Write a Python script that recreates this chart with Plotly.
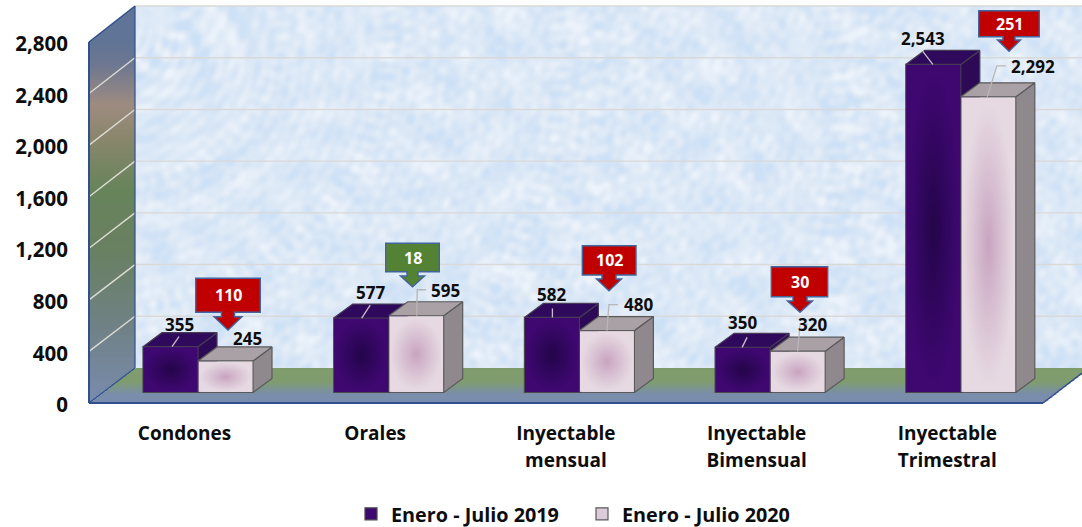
import base64, struct, zlib
import numpy as np
import plotly.graph_objects as go

# ---------- data ----------
categories = ["Condones", "Orales", "Inyectable mensual", "Inyectable Bimensual", "Inyectable Trimestral"]
series_names = ["Enero - Julio 2019", "Enero - Julio 2020"]
values_2019 = [355, 577, 582, 350, 2543]
values_2020 = [245, 595, 480, 320, 2292]
differences = [110, 18, 102, 30, 251]
difference_colors = ["#c00000", "#548235", "#c00000", "#c00000", "#c00000"]
y_ticks = [0, 400, 800, 1200, 1600, 2000, 2400, 2800]

# ---------- layout geometry (pixels) ----------
W, H = 1082, 527
L, B = 89, 403
PB = 405  # bottom of the plot area; the value-axis labels hang from it
CAT0, STEP = 184.5, 190.7
BAR0 = 198.0
PXU = 0.129
BASE = 392.5
BARW = 55 / STEP
DX, DY = 19 / STEP, 14 / PXU
WALL_X, WALL_BOTTOM, WALL_TOP = 135, 368, 6
WALL_PXU = (WALL_BOTTOM - WALL_TOP) / 2800


def px(x):
    return (x - L) / (W - L)


def py(y):
    return (PB - y) / PB


def png(rgba):
    rgba = np.clip(rgba, 0, 255).astype(np.uint8)
    h, w, c = rgba.shape
    raw = b"".join(b"\x00" + rgba[i].tobytes() for i in range(h))

    def chunk(t, d):
        return struct.pack(">I", len(d)) + t + d + struct.pack(">I", zlib.crc32(t + d) & 0xffffffff)

    hdr = struct.pack(">IIBBBBB", w, h, 8, 6, 0, 0, 0)
    data = b"\x89PNG\r\n\x1a\n" + chunk(b"IHDR", hdr) + chunk(b"IDAT", zlib.compress(raw, 9)) + chunk(b"IEND", b"")
    return "data:image/png;base64," + base64.b64encode(data).decode()


def radial(edge, centre, n=48):
    u, v = np.meshgrid(np.linspace(-1, 1, n), np.linspace(-1, 1, n))
    t = np.clip(np.sqrt(u ** 2 + v ** 2) / 0.95, 0, 1)[..., None]
    t = t ** 0.9
    col = np.array(centre) * (1 - t) + np.array(edge) * t
    return png(np.dstack([col, np.full((n, n), 255)]))


def texture(w, h):
    x, y = np.meshgrid(np.arange(w), np.arange(h))
    fine = np.zeros((h, w))
    coarse = np.zeros((h, w))
    for k in range(1, 120):
        a = k * 2.399963
        f = 0.5 + 0.7 * ((k * 0.618034) % 1)
        fine += np.sin(np.cos(a) * f * x + np.sin(a) * f * y + k * 1.7)
        f2 = 0.15 + 0.20 * ((k * 0.381966) % 1)
        coarse += np.sin(np.cos(a * 1.3) * f2 * x + np.sin(a * 1.3) * f2 * y + k * 0.9)
    n = 0.7 * fine / fine.std() + 0.8 * coarse / coarse.std()
    n = (n[..., None]) / 2.6
    base = np.array([221, 233, 247.0])
    light = np.array([236, 243, 251.0])
    dark = np.array([205, 225, 246.0])
    col = base + np.clip(n, 0, 1) * (light - base) + np.clip(-n, 0, 1) * (dark - base)
    return png(np.dstack([col, np.full((h, w), 255)]))


def gradient(stops, ys):
    yy = [s[0] for s in stops]
    return np.stack([np.interp(ys, yy, [s[1][i] for s in stops]) for i in range(3)], axis=-1)


def left_wall():
    w, h = (WALL_X - L) * 2, (B - WALL_TOP)
    ys = np.arange(h) + WALL_TOP + 0.5
    cols = gradient([(40, (95, 116, 150)), (65, (110, 120, 145)), (105, (158, 140, 128)), (135, (140, 135, 110)),
                      (190, (103, 132, 90)), (250, (106, 128, 98)), (330, (112, 130, 135)), (403, (122, 140, 175))], ys)
    img = np.zeros((h, w, 4))
    img[..., :3] = cols[:, None, :]
    xx = (np.arange(w) + 0.5) / 2
    top = 42 - xx * (42 - WALL_TOP) / (WALL_X - L)
    bot = 403 - xx * (403 - WALL_BOTTOM) / (WALL_X - L)
    img[..., 3] = ((ys[:, None] >= top[None, :]) & (ys[:, None] <= bot[None, :])) * 255
    return png(img)


def floor_img():
    w, h = (W - L) // 2, B - WALL_BOTTOM
    ys = np.arange(h) + WALL_BOTTOM + 0.5
    cols = gradient([(368, (127, 158, 108)), (382, (127, 156, 112)), (394, (122, 142, 170)), (403, (122, 140, 175))], ys)
    img = np.zeros((h, w, 4))
    img[..., :3] = cols[:, None, :]
    xx = L + (np.arange(w) + 0.5) * 2
    left = L + (403 - ys[:, None]) * (WALL_X - L) / (403 - WALL_BOTTOM)
    right = 1043 + (403 - ys[:, None]) * (1082 - 1043) / 30
    img[..., 3] = ((xx[None, :] >= left) & (xx[None, :] <= right)) * 255
    return png(img)


images = [
    dict(source=texture(474, 181), xref="paper", yref="paper", x=px(WALL_X), y=py(WALL_TOP), sizex=px(W) - px(WALL_X),
         sizey=py(WALL_TOP) - py(WALL_BOTTOM), xanchor="left", yanchor="top", sizing="stretch", layer="below"),
    dict(source=left_wall(), xref="paper", yref="paper", x=px(L), y=py(WALL_TOP), sizex=px(WALL_X) - px(L),
         sizey=py(WALL_TOP) - py(B), xanchor="left", yanchor="top", sizing="stretch", layer="below"),
    dict(source=floor_img(), xref="paper", yref="paper", x=px(L), y=py(WALL_BOTTOM), sizex=1,
         sizey=py(WALL_BOTTOM) - py(B), xanchor="left", yanchor="top", sizing="stretch", layer="below"),
]

purple_img = radial((62, 8, 112), (36, 5, 74))
light_img = radial((230, 217, 226), (200, 163, 192))
INSET_X, INSET_Y = 0.6 / STEP, 0.6 / PXU
for i, (a, b) in enumerate(zip(values_2019, values_2020)):
    images.append(dict(source=purple_img, xref="x2", yref="y2", x=i - BARW + INSET_X, y=a - INSET_Y,
                       sizex=BARW - 2 * INSET_X, sizey=a - 2 * INSET_Y, xanchor="left", yanchor="top",
                       sizing="stretch", layer="above"))
    images.append(dict(source=light_img, xref="x2", yref="y2", x=i + INSET_X, y=b - INSET_Y,
                       sizex=BARW - 2 * INSET_X, sizey=b - 2 * INSET_Y, xanchor="left", yanchor="top",
                       sizing="stretch", layer="above"))

shapes = []
GRID = "#d9d9d9"
for t in y_ticks[1:]:
    yb = WALL_BOTTOM - WALL_PXU * t
    shapes.append(dict(type="line", xref="paper", yref="paper", x0=px(WALL_X), x1=px(W), y0=py(yb), y1=py(yb),
                       line=dict(color=GRID, width=1.4), layer="below"))
    if t < 2800:
        yf = B - (B - 42) / 2800 * t
        shapes.append(dict(type="line", xref="paper", yref="paper", x0=px(L), x1=px(WALL_X), y0=py(yf), y1=py(yb),
                           line=dict(color="#dcdcd4", width=1.4), layer="below"))
EDGE = "#2f4f8f"
for (x0, y0, x1, y1, wd) in [(L, 42, L, B, 2), (L, 42, WALL_X, WALL_TOP, 1.5), (WALL_X, WALL_TOP, WALL_X, WALL_BOTTOM, 1.2),
                             (L, B, WALL_X, WALL_BOTTOM, 1.2), (L, B, 1043, B, 2), (1043, B, 1082, 373, 1.5)]:
    shapes.append(dict(type="line", xref="paper", yref="paper", x0=px(x0), x1=px(x1), y0=py(y0), y1=py(y1),
                       line=dict(color=EDGE, width=wd), layer="below"))

# ---------- leader lines (pixel offsets from bar centre/top) ----------
leaders_2019 = [[(1.5, 0), (8.5, -10)], [(0.5, 0), (9, -13)], [(0.5, 0), (0.5, -9)], [(-0.5, 0), (4.5, -10)], [(-0.5, 0), (-10.5, -13)]]
leaders_2020 = [[], [(0.5, 0), (1, -26), (10, -26)], [(0, 0), (2, -26), (11, -26)], [(0, 0), (2.5, -27), (10.5, -27)],
                [(-1, 0), (8.5, -31), (17.5, -31)]]
label_shift_2019 = [(8.5, 22.7), (9, 26), (0, 23), (0, 25), (-10, 26)]
label_shift_2020 = [(22, 22), (29, 25), (32, 25.6), (15, 27), (45, 30)]
callouts = [  # rect x0, x1, y0, y1, head half-width, neck half-width, head y, tip y, tip x
    (195.7, 260.3, 278.3, 312.3, 14, 6.5, 316.7, 330, 228),
    (385.7, 439.3, 243.3, 271.7, 12, 5.5, 276, 286.7, 412.5),
    (582.3, 636, 245.7, 275, 12.5, 7, 279, 290.7, 609),
    (771.3, 827.7, 266.7, 296.7, 12.5, 7, 301, 312.3, 800),
    (978.7, 1039.3, 10.7, 36.7, 11.5, 6, 40, 51.3, 1009),
]

for vals, leaders, xoff, col in [(values_2019, leaders_2019, -BARW / 2, "#cbbccb"), (values_2020, leaders_2020, BARW / 2, "#b9b6b8")]:
    for i, (v, pts) in enumerate(zip(vals, leaders)):
        if not pts:
            continue
        cx = i + xoff
        path = " ".join(("M" if k == 0 else "L") + f"{cx + p[0] / STEP},{v - p[1] / PXU}" for k, p in enumerate(pts))
        shapes.append(dict(type="path", xref="x2", yref="y2", path=path, line=dict(color=col, width=1.3), layer="above"))

annotations = []
FONT = "Open Sans"
for i, (d, c, co) in enumerate(zip(differences, difference_colors, callouts)):
    x0, x1, y0, y1, hw, nw, hy, ty, tx = co
    pts = [(x0, y0), (x1, y0), (x1, y1), (tx + nw, y1), (tx + nw, hy), (tx + hw, hy), (tx, ty), (tx - hw, hy), (tx - nw, hy), (tx - nw, y1), (x0, y1)]
    path = " ".join(("M" if k == 0 else "L") + f"{px(a)},{py(b)}" for k, (a, b) in enumerate(pts)) + " Z"
    shapes.append(dict(type="path", xref="paper", yref="paper", path=path, fillcolor=c,
                       line=dict(color="#41659c", width=1.4), layer="above"))
    annotations.append(dict(xref="paper", yref="paper", x=px((x0 + x1) / 2), y=py((y0 + y1) / 2), text=str(d), showarrow=False,
                            xanchor="center", yanchor="middle", font=dict(family=FONT, size=16, color="white", weight=700)))

for vals, shifts, xoff in [(values_2019, label_shift_2019, -BARW / 2), (values_2020, label_shift_2020, BARW / 2)]:
    for i, (v, (sx, sy)) in enumerate(zip(vals, shifts)):
        annotations.append(dict(xref="x2", yref="y2", x=i + xoff, y=v, xshift=sx, yshift=sy, text=f"{v:,}", showarrow=False,
                                xanchor="center", yanchor="middle",
                                font=dict(family=FONT, size=17, color="#0d0d0d", weight=700)))

# ---------- traces ----------
fig = go.Figure()
x_pos = list(range(len(categories)))
# carrier trace so the visible category/value axes are drawn
fig.add_trace(go.Scatter(x=x_pos, y=[0] * len(x_pos), mode="markers", marker=dict(opacity=0, size=1), showlegend=False, hoverinfo="skip"))
fig.add_trace(go.Bar(x=x_pos, y=values_2019, name=series_names[0], width=BARW, offset=-BARW, xaxis="x2", yaxis="y2",
                     marker=dict(color="#3d0870", line=dict(color="#4a4a4a", width=1.2)), hoverinfo="y"))
fig.add_trace(go.Bar(x=x_pos, y=values_2020, name=series_names[1], width=BARW, offset=0, xaxis="x2", yaxis="y2",
                     marker=dict(color="#dccbd8", line=dict(color="#5a5a5a", width=1.2)), hoverinfo="y"))


def faces(vals, x_left):
    tx, ty, sx, sy = [], [], [], []
    for i, v in enumerate(vals):
        a, b = i + x_left, i + x_left + BARW
        tx += [a, b, b + DX, a + DX, a, None]
        ty += [v, v, v + DY, v + DY, v, None]
        sx += [b, b + DX, b + DX, b, b, None]
        sy += [0, DY, v + DY, v, 0, None]
    return tx, ty, sx, sy


for vals, x_left, top_c, side_c, ln in [(values_2019, -BARW, "#2f0a5c", "#2d0a56", "#463a55"),
                                        (values_2020, 0, "#a9a1a5", "#8f888c", "#5a5a5a")]:
    tx, ty, sx, sy = faces(vals, x_left)
    for fx, fy, c in [(sx, sy, side_c), (tx, ty, top_c)]:
        fig.add_trace(go.Scatter(x=fx, y=fy, mode="lines", fill="toself", fillcolor=c, xaxis="x2", yaxis="y2",
                                 line=dict(color=ln, width=1.2), showlegend=False, hoverinfo="skip"))

cat_text = []
for c in categories:
    parts = c.split(" ")
    cat_text.append("<br>".join(f"<span style='font-size:19px'>{p}</span>" for p in parts))

fig.update_layout(
    width=W, height=H, paper_bgcolor="white", plot_bgcolor="rgba(0,0,0,0)", barmode="overlay",
    margin=dict(l=L, r=0, t=0, b=H - PB, pad=0, autoexpand=False),
    font=dict(family=FONT, color="#0d0d0d"),
    xaxis=dict(range=[(L - CAT0) / STEP, (W - CAT0) / STEP], tickvals=x_pos, ticktext=cat_text, showgrid=False, zeroline=False,
               showline=False, ticks="", ticklabelstandoff=12, tickangle=0, tickfont=dict(family=FONT, size=21.5, color="#0d0d0d", weight=700)),
    yaxis=dict(range=[0, PB / PXU], tickvals=y_ticks, tickformat=",d", showgrid=False, zeroline=False, showline=False, ticks="",
               ticklabelstandoff=20, tickfont=dict(family=FONT, size=20.5, color="#0d0d0d", weight=700)),
    xaxis2=dict(range=[(L - BAR0) / STEP, (W - BAR0) / STEP], overlaying="x", visible=False),
    yaxis2=dict(range=[(BASE - PB) / PXU, BASE / PXU], overlaying="y", visible=False),
    images=images, shapes=shapes, annotations=annotations,
    legend=dict(orientation="h", x=px(351), y=py(514), xanchor="left", yanchor="middle", entrywidth=186, entrywidthmode="pixels",
                font=dict(family=FONT, size=19.8, color="#0d0d0d", weight=700), traceorder="normal", bgcolor="rgba(0,0,0,0)"),
)

fig.write_html("out.html", config=dict(displayModeBar=False),
               post_script="document.body.style.margin='0';document.documentElement.style.overflow='hidden';")
